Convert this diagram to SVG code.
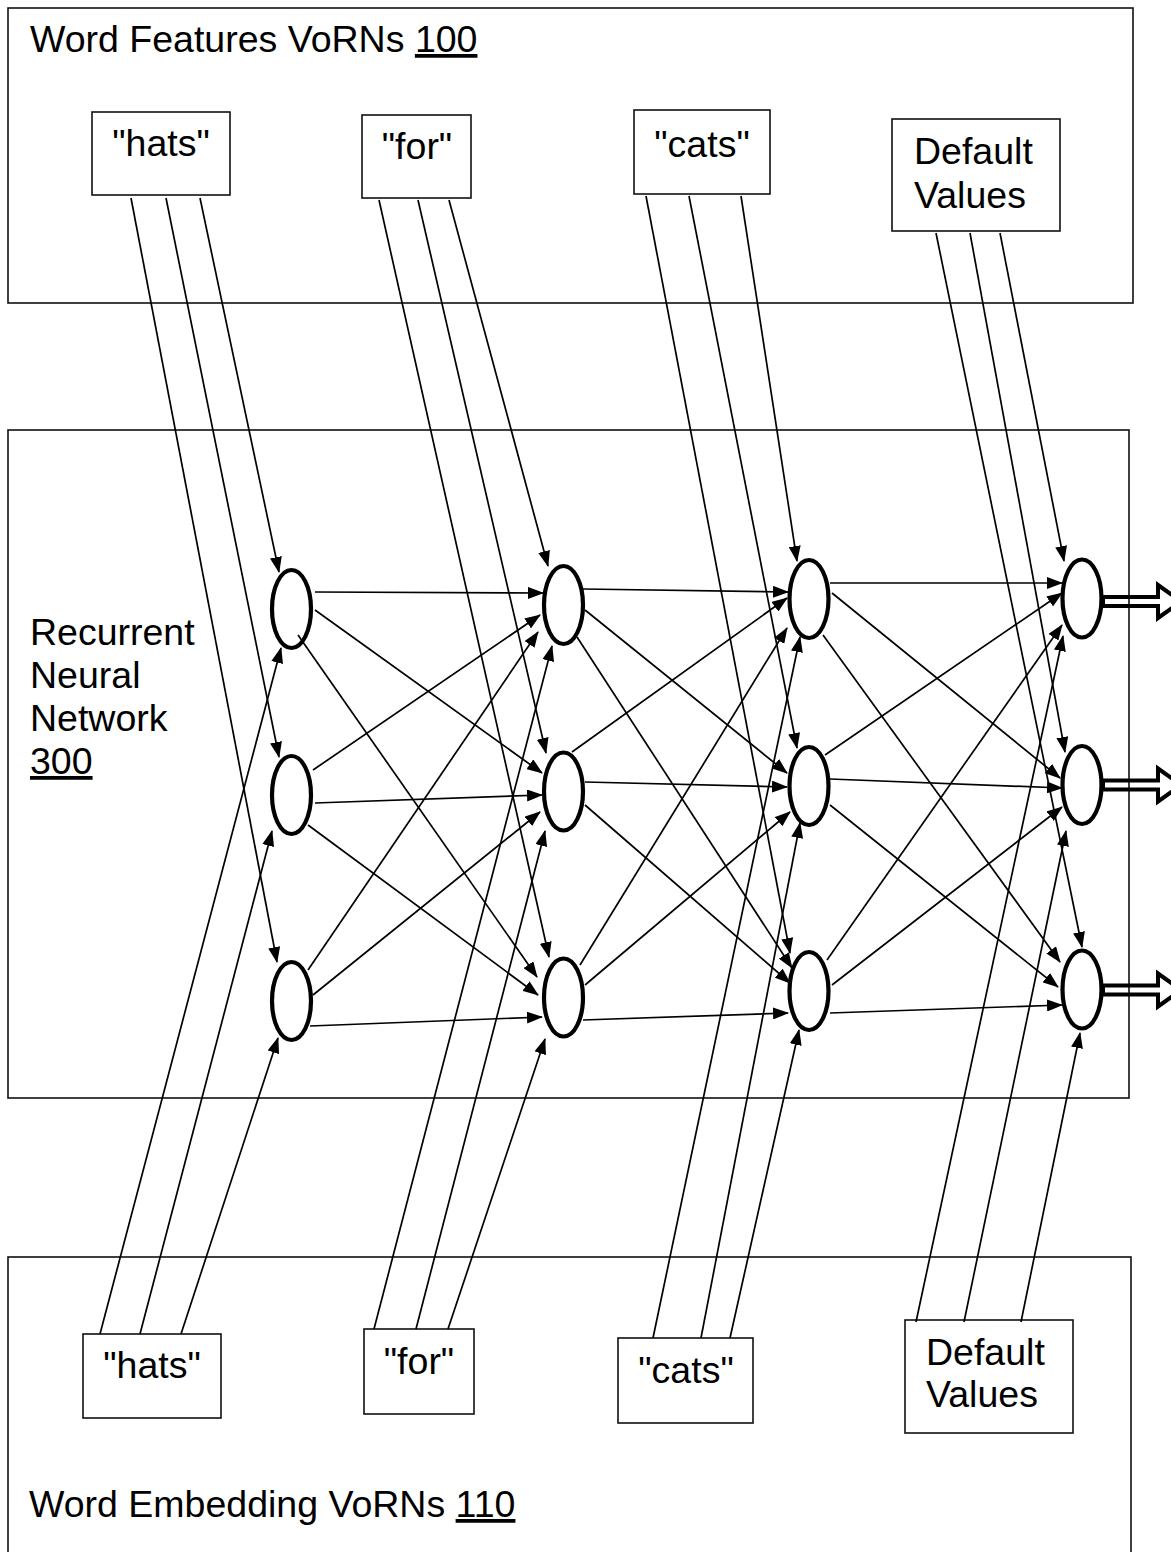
<svg xmlns="http://www.w3.org/2000/svg" width="1171" height="1552" viewBox="0 0 1171 1552">
  <defs>
    <style>
      .frame { fill: none; stroke: #111; stroke-width: 1.6; }
      .wbox { fill: #fff; stroke: #111; stroke-width: 1.6; }
      .node { fill: #fff; stroke: #000; stroke-width: 4.2; }
      .conn line { stroke: #000; stroke-width: 1.7; marker-end: url(#arr); }
      .out { fill: none; stroke: #000; stroke-width: 4; stroke-linejoin: miter; }
      text { font-family: "Liberation Sans", Arial, sans-serif; font-size: 37.5px; fill: #000; }
      .u { text-decoration: underline; }
    </style>
    <marker id="arr" markerUnits="userSpaceOnUse" markerWidth="16" markerHeight="12" refX="15" refY="6" orient="auto">
      <path d="M0,0 L16,6 L0,12 z" fill="#000"/>
    </marker>
  </defs>

  <rect width="1171" height="1552" fill="#fff"/>

  <!-- layer containers -->
  <g id="word-features">
    <rect class="frame" x="8" y="8" width="1125" height="295"/>
    <text x="30" y="52">Word Features VoRNs <tspan class="u">100</tspan></text>
  </g>
  <g id="rnn">
    <rect class="frame" x="8" y="430" width="1121" height="668"/>
    <text x="30" y="645">Recurrent</text>
    <text x="30" y="688">Neural</text>
    <text x="30" y="731">Network</text>
    <text x="30" y="774" class="u">300</text>
  </g>
  <g id="word-embedding">
    <rect class="frame" x="8" y="1257" width="1123" height="400"/>
    <text x="29" y="1517">Word Embedding VoRNs <tspan class="u">110</tspan></text>
  </g>

  <!-- feature inputs (top) -->
  <g id="feat-hats">
    <rect class="wbox" x="92" y="112" width="138" height="83"/>
    <text x="161" y="156" text-anchor="middle">"hats"</text>
  </g>
  <g id="feat-for">
    <rect class="wbox" x="362" y="115" width="109" height="83"/>
    <text x="417" y="159" text-anchor="middle">"for"</text>
  </g>
  <g id="feat-cats">
    <rect class="wbox" x="634" y="110" width="136" height="84"/>
    <text x="702" y="157" text-anchor="middle">"cats"</text>
  </g>
  <g id="feat-default">
    <rect class="wbox" x="892" y="119" width="168" height="112"/>
    <text x="914" y="164">Default</text>
    <text x="914" y="208">Values</text>
  </g>

  <!-- embedding inputs (bottom) -->
  <g id="emb-hats">
    <rect class="wbox" x="83" y="1334" width="138" height="84"/>
    <text x="152" y="1378" text-anchor="middle">"hats"</text>
  </g>
  <g id="emb-for">
    <rect class="wbox" x="364" y="1329" width="110" height="85"/>
    <text x="419" y="1374" text-anchor="middle">"for"</text>
  </g>
  <g id="emb-cats">
    <rect class="wbox" x="618" y="1338" width="135" height="85"/>
    <text x="686" y="1383" text-anchor="middle">"cats"</text>
  </g>
  <g id="emb-default">
    <rect class="wbox" x="905" y="1320" width="168" height="113"/>
    <text x="926" y="1365">Default</text>
    <text x="926" y="1407">Values</text>
  </g>

  <!-- recurrent units, one column per time step -->
  <g id="n1a"><ellipse class="node" cx="291.5" cy="609" rx="19.5" ry="39"/></g>
  <g id="n1b"><ellipse class="node" cx="291.5" cy="795" rx="19.5" ry="39"/></g>
  <g id="n1c"><ellipse class="node" cx="291.5" cy="1001" rx="19.5" ry="39"/></g>
  <g id="n2a"><ellipse class="node" cx="563.5" cy="605" rx="19.5" ry="39"/></g>
  <g id="n2b"><ellipse class="node" cx="563.5" cy="791.5" rx="19.5" ry="39"/></g>
  <g id="n2c"><ellipse class="node" cx="563.5" cy="997.5" rx="19.5" ry="39"/></g>
  <g id="n3a"><ellipse class="node" cx="809" cy="599" rx="19.5" ry="39"/></g>
  <g id="n3b"><ellipse class="node" cx="809" cy="786" rx="19.5" ry="39"/></g>
  <g id="n3c"><ellipse class="node" cx="809" cy="991" rx="19.5" ry="39"/></g>
  <g id="n4a"><ellipse class="node" cx="1082" cy="598.5" rx="19.5" ry="39"/></g>
  <g id="n4b"><ellipse class="node" cx="1082" cy="785" rx="19.5" ry="39"/></g>
  <g id="n4c"><ellipse class="node" cx="1082" cy="989.5" rx="19.5" ry="39"/></g>

  <!-- connectors -->
  <g id="connectors" class="conn">
    <!-- feature inputs -->
    <line x1="200" y1="198" x2="279" y2="572"/>
    <line x1="166" y1="198" x2="279" y2="757"/>
    <line x1="131" y1="198" x2="277" y2="962"/>
    <line x1="449" y1="200" x2="548" y2="566"/>
    <line x1="418" y1="200" x2="546" y2="753"/>
    <line x1="379" y1="200" x2="549" y2="957"/>
    <line x1="741" y1="196" x2="797" y2="561"/>
    <line x1="689" y1="196" x2="797" y2="748"/>
    <line x1="646" y1="196" x2="790" y2="953"/>
    <line x1="1000" y1="233" x2="1064" y2="561"/>
    <line x1="970" y1="233" x2="1065" y2="752"/>
    <line x1="936" y1="233" x2="1082" y2="947"/>
    <!-- embedding inputs -->
    <line x1="100" y1="1334" x2="281" y2="648"/>
    <line x1="140" y1="1334" x2="272" y2="831"/>
    <line x1="181" y1="1334" x2="278" y2="1038"/>
    <line x1="374" y1="1329" x2="552" y2="646"/>
    <line x1="416" y1="1329" x2="545" y2="831"/>
    <line x1="448" y1="1329" x2="545" y2="1039"/>
    <line x1="653" y1="1338" x2="800" y2="637"/>
    <line x1="701" y1="1338" x2="800" y2="823"/>
    <line x1="730" y1="1338" x2="799" y2="1030"/>
    <line x1="916" y1="1322" x2="1063" y2="636"/>
    <line x1="964" y1="1322" x2="1066" y2="831"/>
    <line x1="1021" y1="1322" x2="1080" y2="1033"/>
    <!-- step 1 to step 2 -->
    <line x1="315" y1="592" x2="543" y2="593"/>
    <line x1="315" y1="610" x2="542" y2="773"/>
    <line x1="298" y1="635" x2="537" y2="977"/>
    <line x1="313" y1="770" x2="540" y2="615"/>
    <line x1="315" y1="803" x2="542" y2="795"/>
    <line x1="308" y1="825" x2="538" y2="995"/>
    <line x1="308" y1="970" x2="538" y2="632"/>
    <line x1="313" y1="995" x2="540" y2="812"/>
    <line x1="310" y1="1026" x2="542" y2="1017"/>
    <!-- step 2 to step 3 -->
    <line x1="583" y1="589" x2="788" y2="592"/>
    <line x1="585" y1="610" x2="787" y2="773"/>
    <line x1="577" y1="637" x2="792" y2="968"/>
    <line x1="572" y1="752" x2="787" y2="598"/>
    <line x1="585" y1="782" x2="787" y2="787"/>
    <line x1="585" y1="805" x2="790" y2="983"/>
    <line x1="580" y1="965" x2="787" y2="628"/>
    <line x1="585" y1="985" x2="790" y2="812"/>
    <line x1="583" y1="1020" x2="788" y2="1013"/>
    <!-- step 3 to step 4 -->
    <line x1="830" y1="583" x2="1062" y2="583"/>
    <line x1="832" y1="593" x2="1060" y2="778"/>
    <line x1="823" y1="635" x2="1060" y2="962"/>
    <line x1="825" y1="755" x2="1062" y2="593"/>
    <line x1="830" y1="779" x2="1062" y2="788"/>
    <line x1="830" y1="805" x2="1058" y2="987"/>
    <line x1="827" y1="960" x2="1062" y2="625"/>
    <line x1="832" y1="985" x2="1062" y2="807"/>
    <line x1="830" y1="1013" x2="1062" y2="1005"/>
  </g>

  <!-- outputs -->
  <g id="outputs">
    <polygon class="out" points="1103,597 1158,597 1158,585 1181,601.5 1158,618 1158,606 1103,606"/>
    <polygon class="out" points="1103,780.5 1158,780.5 1158,768.5 1181,785 1158,801.5 1158,789.5 1103,789.5"/>
    <polygon class="out" points="1103,985.5 1158,985.5 1158,973.5 1181,990 1158,1006.5 1158,994.5 1103,994.5"/>
  </g>
</svg>
